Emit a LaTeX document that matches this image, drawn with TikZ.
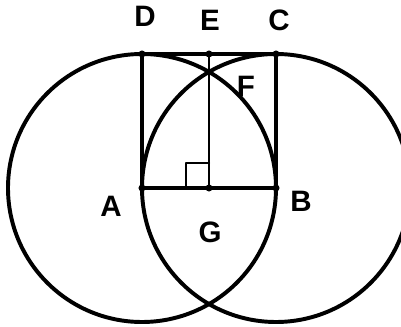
\documentclass[tikz,border=0pt]{standalone}
\usepackage{fontspec}
\setsansfont{Liberation Sans}
\usetikzlibrary{calc}
\tikzset{
  ptlabel/.style={font=\sffamily\bfseries\fontsize{21}{21}\selectfont},
  ptdot/.style={circle,fill,inner sep=0pt,minimum size=5pt},
}
\begin{document}
\begin{tikzpicture}[x=0.025cm,y=-0.025cm,line cap=round,line join=round]
        \def\s{134}
        \useasboundingbox (0,0) rectangle (401,327);
        \coordinate (A) at (142,188);
        \coordinate (B) at ($(A)+(\s,0)$);
        \coordinate (C) at ($(B)+(0,-\s)$);
        \coordinate (D) at ($(A)+(0,-\s)$);
        \coordinate (E) at ($(D)!0.5!(C)$);
        \coordinate (G) at ($(A)!0.5!(B)$);
        \coordinate (F) at ($(G)+(0,-116)$);
        % the two circles
        \draw[line width=2.8pt] (A) circle[radius=\s];
        \draw[line width=2.8pt] (B) circle[radius=\s];
        % square and the middle line
        \draw[line width=2.2pt] (A) -- (B) -- (C) -- (D) -- cycle;
        \draw[line width=1.8pt] (E) -- (G);
        \draw[line width=1.6pt] ($(G)+(-23,0)$) -- ++(0,-25) -- ++(23,0);
        \foreach \p in {A,B,C,D,E,F,G}
          \node[ptdot] (dot\p) at (\p) {};
        % labels
        \node[ptlabel] (lblD) at (145,16) {D};
        \node[ptlabel] (lblE) at (210,20) {E};
        \node[ptlabel] (lblC) at (279,20) {C};
        \node[ptlabel] (lblF) at (246,86) {F};
        \node[ptlabel] (lblA) at (111,206) {A};
        \node[ptlabel] (lblG) at (210,232) {G};
        \node[ptlabel] (lblB) at (301,201) {B};
      \end{tikzpicture}
\end{document}
